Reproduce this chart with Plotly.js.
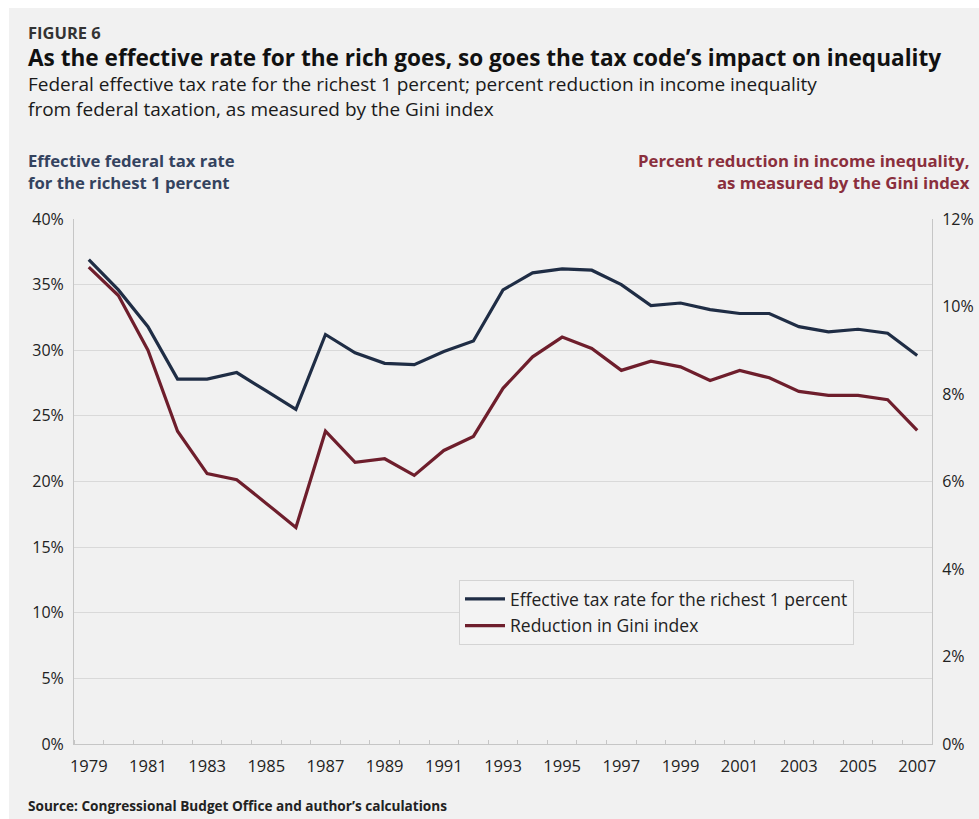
<!DOCTYPE html>
<html>
<head>
<meta charset="utf-8">
<script src="https://cdn.plot.ly/plotly-3.0.1.min.js"></script>
<style>
  html, body { margin: 0; padding: 0; background: #ffffff; }
  #chart { width: 979px; height: 819px; }
</style>
</head>
<body>
<div id="chart"></div>
<script>
// ---- Data ----
const years = [1979, 1980, 1981, 1982, 1983, 1984, 1985, 1986, 1987, 1988,
               1989, 1990, 1991, 1992, 1993, 1994, 1995, 1996, 1997, 1998,
               1999, 2000, 2001, 2002, 2003, 2004, 2005, 2006, 2007];

// Effective federal tax rate for the richest 1 percent (%), left axis
const effectiveRate = [36.9, 34.6, 31.8, 27.8, 27.8, 28.3, 26.9, 25.5, 31.2, 29.8,
                       29.0, 28.9, 29.9, 30.7, 34.6, 35.9, 36.2, 36.1, 35.0, 33.4,
                       33.6, 33.1, 32.8, 32.8, 31.8, 31.4, 31.6, 31.3, 29.6];

// Percent reduction in Gini index from federal taxation (%), right axis
const giniReduction = [10.9, 10.25, 9.0, 7.15, 6.18, 6.04, 5.5, 4.95, 7.15, 6.44,
                       6.52, 6.14, 6.71, 7.03, 8.13, 8.85, 9.3, 9.04, 8.54, 8.75,
                       8.62, 8.31, 8.54, 8.37, 8.06, 7.97, 7.97, 7.87, 7.17];

const xTickVals = [1979, 1981, 1983, 1985, 1987, 1989, 1991, 1993, 1995, 1997,
                   1999, 2001, 2003, 2005, 2007];
const xTickText = ['1979', '1981', '1983', '1985', '1987', '1989', '1991', '1993',
                   '1995', '1997', '1999', '2001', '2003', '2005', '2007'];
const leftTickVals = [0, 5, 10, 15, 20, 25, 30, 35, 40];
const rightTickVals = [0, 2, 4, 6, 8, 10, 12];

const seriesNames = ['Effective tax rate for the richest 1 percent', 'Reduction in Gini index'];

// ---- Layout helpers (pixel -> paper) ----
const W = 979, H = 819;
const M = { l: 74, r: 47, t: 219, b: 75 };
const PW = W - M.l - M.r, PH = H - M.t - M.b;
const px = x => (x - M.l) / PW;
const py = y => (H - M.b - y) / PH;

const FONT = '"Open Sans", Lato, sans-serif';
const BLUE = '#1f2d45';
const RED = '#6e1e2c';

const traces = [
  {
    x: years, y: effectiveRate, type: 'scatter', mode: 'lines',
    name: seriesNames[0], yaxis: 'y', legendgroup: 'a',
    line: { color: BLUE, width: 3.2 }
  },
  {
    x: years, y: giniReduction, type: 'scatter', mode: 'lines',
    name: seriesNames[1], yaxis: 'y2', legendgroup: 'b',
    line: { color: RED, width: 3.2 }
  }
];

function ann(text, x, y, size, color, bold, xanchor) {
  return {
    text: bold ? '<b>' + text + '</b>' : text,
    xref: 'paper', yref: 'paper', x: px(x), y: py(y),
    xanchor: xanchor || 'left', yanchor: 'middle', showarrow: false,
    align: xanchor === 'right' ? 'right' : 'left',
    borderpad: 0,
    font: { family: FONT, size: size, color: color }
  };
}

const layout = {
  width: W, height: H,
  margin: M,
  paper_bgcolor: '#f1f1f1',
  plot_bgcolor: 'rgba(0,0,0,0)',
  font: { family: FONT, size: 16, color: '#222222' },
  showlegend: true,
  legend: {
    x: px(459), y: py(580), xanchor: 'left', yanchor: 'top',
    bgcolor: '#f3f3f3', bordercolor: '#d4d4d4', borderwidth: 1,
    font: { family: FONT, size: 17.5, color: '#222222' },
    itemwidth: 40,
    tracegroupgap: 1
  },
  xaxis: {
    range: [1978.5, 2007.5],
    tickmode: 'array', tickvals: xTickVals, ticktext: xTickText,
    ticks: 'outside', ticklen: 7, tickcolor: 'rgba(0,0,0,0)',
    showgrid: false, zeroline: false,
    showline: true, linecolor: '#c6c6c6', linewidth: 1,
    tickfont: { family: FONT, size: 16.5, color: '#222222' },
    minor: { tick0: 1978.5, dtick: 1, ticks: 'inside', ticklen: 4, tickcolor: '#c6c6c6', tickwidth: 1, showgrid: false }
  },
  yaxis: {
    range: [0, 40],
    tickmode: 'array', tickvals: leftTickVals, ticktext: leftTickVals.map(v => v + '%'),
    ticks: 'outside', ticklen: 6, tickcolor: 'rgba(0,0,0,0)',
    showgrid: true, gridcolor: '#d9d9d9', gridwidth: 1,
    zeroline: false, showline: true, linecolor: '#c6c6c6', linewidth: 1,
    tickfont: { family: FONT, size: 16, color: '#222222' }
  },
  yaxis2: {
    range: [0, 12], overlaying: 'y', side: 'right',
    tickmode: 'array', tickvals: rightTickVals, ticktext: rightTickVals.map(v => v + '%'),
    ticks: 'outside', ticklen: 6, tickcolor: 'rgba(0,0,0,0)',
    showgrid: false, zeroline: false, showline: true, linecolor: '#c6c6c6', linewidth: 1,
    tickfont: { family: FONT, size: 16, color: '#222222' }
  },
  shapes: [
    { type: 'rect', xref: 'paper', yref: 'paper', x0: px(0), x1: px(9), y0: py(H), y1: py(0),
      fillcolor: '#ffffff', line: { width: 0 }, layer: 'above' },
    { type: 'rect', xref: 'paper', yref: 'paper', x0: px(0), x1: px(W), y0: py(8), y1: py(0),
      fillcolor: '#ffffff', line: { width: 0 }, layer: 'above' }
  ],
  annotations: [
    ann('FIGURE 6', 27, 32, 16.5, '#333333', true),
    ann('As the effective rate for the rich goes, so goes the tax code\u2019s impact on inequality', 27, 57, 22.6, '#111111', true),
    ann('Federal effective tax rate for the richest 1 percent; percent reduction in income inequality<br>from federal taxation, as measured by the Gini index', 27, 96.5, 19, '#1a1a1a', false),
    ann('<b>Effective federal tax rate</b><br><b>for the richest 1 percent</b>', 27, 171.5, 16.7, '#34435f', false),
    ann('<b>Percent reduction in income inequality,</b><br><b>as measured by the Gini index</b>', 971, 171.5, 16.8, '#8a2f3d', false, 'right'),
    ann('Source: Congressional Budget Office and author\u2019s calculations', 27, 805, 13.6, '#222222', true)
  ]
};

Plotly.newPlot('chart', traces, layout, { displayModeBar: false, staticPlot: true });
</script>
</body>
</html>
